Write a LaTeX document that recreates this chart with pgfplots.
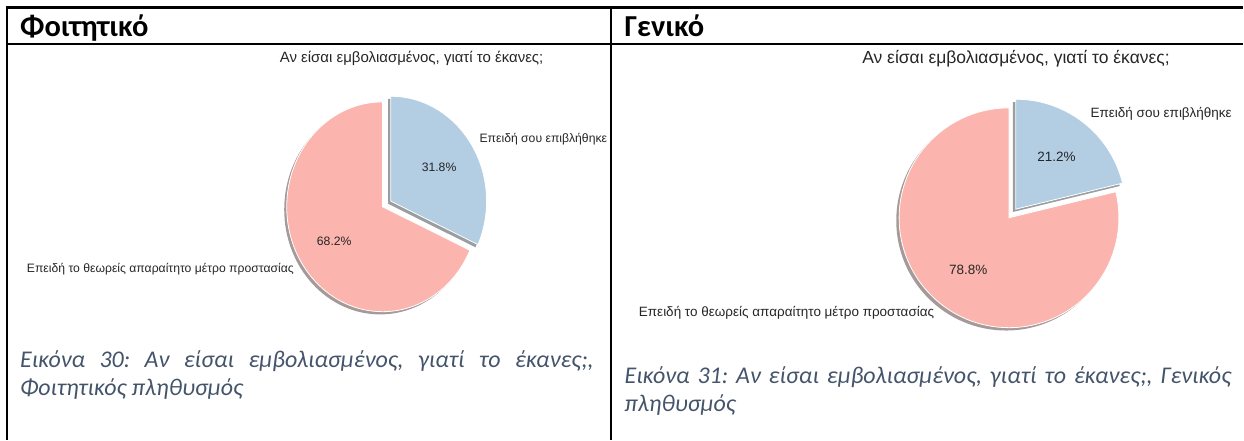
\documentclass[border=0pt]{standalone}
\usepackage{pgfplots}
\pgfplotsset{compat=1.18}
\usepackage{fontspec}
\setmainfont{Liberation Sans}
\newfontfamily\calibri{Carlito}
\frenchspacing
\definecolor{pblue}{HTML}{B3CDE3}
\definecolor{ppink}{HTML}{FBB4AE}
\definecolor{capcol}{HTML}{44546A}
\definecolor{txt}{HTML}{262626}

% pie data: share of "Επειδή σου επιβλήθηκε" (blue) and "Επειδή το θεωρείς ..." (pink)
\def\Astud{31.8}\def\Bstud{68.2}
\def\Agen{21.2}\def\Bgen{78.8}

\def\labfont{\fontsize{12}{14}\selectfont}

\newcommand\pieraw[9]{\pierawb{#1}{#2}{#3}{#4}{#5}{#6}{#7}{#8}{#9}}
\newcommand\pierawb[9]{\def\pA{#1}\def\pB{#2}\def\pC{#3}\def\pD{#4}\def\pE{#5}\def\pF{#6}\def\pG{#7}\def\pH{#8}\def\pI{#9}\pierawc}
\newcommand\pierawc[5]{%
  % #1=midB #2=bx #3=by #4=shx #5=shy ; \pA..\pI = cx cy rx ry A B stA midA enB
  \fill[ppink!30!black, opacity=0.5] (axis cs:\pA+#4,\pB+#5) -- ++(90:\pC pt and \pD pt) arc[start angle=90, end angle=\pI, x radius=\pC pt, y radius=\pD pt] -- cycle;
  \fill[pblue!30!black, opacity=0.5] (axis cs:#2+#4,#3+#5) -- ++(\pG:\pC pt and \pD pt) arc[start angle=\pG, end angle=90, x radius=\pC pt, y radius=\pD pt] -- cycle;
  \filldraw[fill=ppink, draw=white, line width=0.8pt] (axis cs:\pA,\pB) -- ++(90:\pC pt and \pD pt) arc[start angle=90, end angle=\pI, x radius=\pC pt, y radius=\pD pt] -- cycle;
  \filldraw[fill=pblue, draw=white, line width=0.8pt] (axis cs:#2,#3) -- ++(\pG:\pC pt and \pD pt) arc[start angle=\pG, end angle=90, x radius=\pC pt, y radius=\pD pt] -- cycle;
  \path (axis cs:#2,#3) ++(\pH:0.6*\pC pt and 0.6*\pD pt) node[font=\labfont, text=txt] {\pE\%};
  \path (axis cs:\pA,\pB) ++(#1:0.6*\pC pt and 0.6*\pD pt) node[font=\labfont, text=txt] {\pF\%};
  \path (axis cs:#2,#3) ++(\pH:1.1*\pC pt and 1.1*\pD pt) node[anchor=west, inner sep=0pt, font=\labfont, text=txt] {Επειδή σου επιβλήθηκε};
  \path (axis cs:\pA,\pB) ++(#1:1.1*\pC pt and 1.1*\pD pt) node[anchor=east, inner sep=0pt, font=\labfont, text=txt] {Επειδή το θεωρείς απαραίτητο μέτρο προστασίας};
}

% \pie{cx}{cy}{rx}{ry}{A}{B}
\newcommand\pie[6]{%
  \pgfmathsetmacro\angA{360*#5/(#5+#6)}%
  \pgfmathsetmacro\stA{90-\angA}%
  \pgfmathsetmacro\midA{90-\angA/2}%
  \pgfmathsetmacro\enB{450-\angA}%
  \pgfmathsetmacro\midB{90+(360-\angA)/2}%
  \pgfmathsetmacro\bx{#1+0.1*#3*cos(\midA)}%
  \pgfmathsetmacro\by{#2-0.1*#4*sin(\midA)}%
  \pgfmathsetmacro\shx{-0.026*#3}%
  \pgfmathsetmacro\shy{0.026*#4}%
  \edef\tmp{\noexpand\pieraw{#1}{#2}{#3}{#4}{#5}{#6}{\stA}{\midA}{\enB}{\midB}{\bx}{\by}{\shx}{\shy}}%
  \tmp
}

\pgfplotsset{canvas/.style={
  at={(0,0)}, anchor=south west,
  width=1244pt, height=440pt, scale only axis,
  xmin=0, xmax=1244, ymin=0, ymax=440, y dir=reverse,
  hide axis, clip=false}}

\begin{document}
\begin{tikzpicture}
\begin{axis}[canvas]
\path (axis cs:0,0) rectangle (axis cs:1244,440);
% table lines
\draw[black, line width=2.5pt] (axis cs:6.5,7.5) -- (axis cs:1244,7.5);
\draw[black, line width=1.6pt] (axis cs:6.5,44) -- (axis cs:1244,44);
\draw[black, line width=2pt] (axis cs:7.5,6.5) -- (axis cs:7.5,440);
\draw[black, line width=2pt] (axis cs:612,6.5) -- (axis cs:612,440);
% headers
\node[anchor=base west, inner sep=0pt, font=\calibri\bfseries\fontsize{30.5}{33}\selectfont] at (axis cs:20,37) {Φοιτητικό};
\node[anchor=base west, inner sep=0pt, font=\calibri\bfseries\fontsize{30.5}{33}\selectfont] at (axis cs:625,37) {Γενικό};
% chart titles
\node[font=\fontsize{15}{17}\selectfont, text=txt] at (axis cs:412,58) {Αν είσαι εμβολιασμένος, γιατί το έκανες;};
\node[font=\fontsize{17.5}{19}\selectfont, text=txt] at (axis cs:1017,59) {Αν είσαι εμβολιασμένος, γιατί το έκανες;};
% captions
\node[anchor=base west, inner sep=0pt, text width=574pt, align=justify, text=capcol, font=\calibri\itshape\fontsize{24}{28}\selectfont] at (axis cs:20,368) {Εικόνα 30: Αν είσαι εμβολιασμένος, γιατί το έκανες;, Φοιτητικός πληθυσμός};
\node[anchor=base west, inner sep=0pt, text width=607pt, align=justify, text=capcol, font=\calibri\itshape\fontsize{24}{28}\selectfont] at (axis cs:625,384) {Εικόνα 31: Αν είσαι εμβολιασμένος, γιατί το έκανες;, Γενικός πληθυσμός};
\end{axis}
\begin{axis}[canvas]
\def\labfont{\fontsize{12.2}{14}\selectfont}
\pie{383}{207}{96}{105}{\Astud}{\Bstud}
\end{axis}
\begin{axis}[canvas]
\def\labfont{\fontsize{13.5}{15}\selectfont}
\pie{1010}{218}{110}{110}{\Agen}{\Bgen}
\end{axis}
\end{tikzpicture}
\end{document}
